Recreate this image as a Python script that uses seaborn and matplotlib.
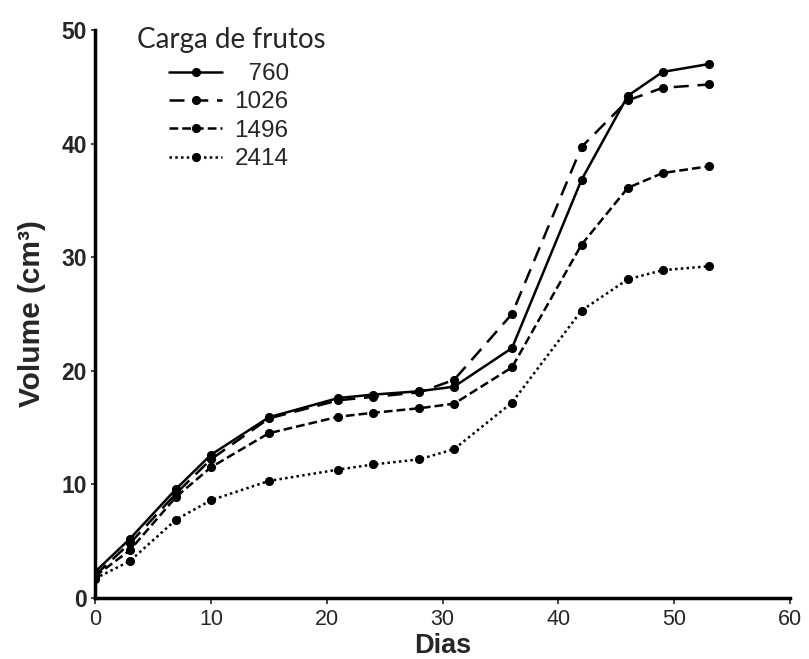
import seaborn as sns
import matplotlib.pyplot as plt
import pandas as pd

# dias apos inicio, volume medio (cm3) por carga de frutos
dias = [0, 3, 7, 10, 15, 21, 24, 28, 31, 36, 42, 46, 49, 53]
carga_760 = [2.3, 5.2, 9.6, 12.6, 15.9, 17.6, 17.9, 18.2, 18.6, 22.0, 36.8, 44.2, 46.3, 47.0]
carga_1026 = [2.0, 4.8, 9.2, 12.2, 15.8, 17.4, 17.7, 18.1, 19.2, 25.0, 39.7, 43.8, 44.9, 45.2]
carga_1496 = [1.9, 4.2, 8.9, 11.5, 14.5, 15.95, 16.3, 16.7, 17.1, 20.3, 31.1, 36.1, 37.4, 38.0]
carga_2414 = [1.7, 3.25, 6.9, 8.6, 10.3, 11.3, 11.75, 12.2, 13.1, 17.2, 25.3, 28.05, 28.85, 29.2]

cargas = ['  760', '1026', '1496', '2414']
series = [carga_760, carga_1026, carga_1496, carga_2414]

rows = []
for nome, vals in zip(cargas, series):
    for d, v in zip(dias, vals):
        rows.append({'dias': d, 'volume': v, 'carga': nome})
df = pd.DataFrame(rows)

sns.set_style('white')
plt.rcParams['font.family'] = ['Liberation Sans', 'DejaVu Sans']

fig = plt.figure(figsize=(8.09, 6.59), dpi=100)
ax = fig.add_axes([0.1175, 0.0926, 0.859, 0.862])

tracos = {'  760': '', '1026': (6, 3.5), '1496': (3.5, 1.6), '2414': (1, 1.3)}
sns.lineplot(data=df, x='dias', y='volume', hue='carga', style='carga',
             palette=['black'] * 4, dashes=tracos, markers={c: 'o' for c in cargas},
             markersize=5.8, linewidth=1.8, markeredgecolor='black', ax=ax)

ax.set_xlim(0, 60)
ax.set_ylim(0, 50)
ax.set_xticks([0, 10, 20, 30, 40, 50, 60])
ax.set_yticks([0, 10, 20, 30, 40, 50])
sns.despine(ax=ax)
for s in ['left', 'bottom']:
    ax.spines[s].set_linewidth(2.5)
    ax.spines[s].set_color('black')
ax.tick_params(axis='x', direction='out', length=4, width=1.2, labelsize=15.5, pad=4, bottom=True)
ax.tick_params(axis='y', direction='out', length=3, width=1.2, labelsize=16.5, pad=3, left=True)
for lab in ax.get_yticklabels():
    lab.set_fontweight('bold')

ax.set_xlabel('Dias', fontsize=19.5, fontweight='bold', labelpad=2)
ax.set_ylabel('Volume (cm³)', fontsize=21.5, fontweight='bold', labelpad=11)

handles, labels = ax.get_legend_handles_labels()
leg = ax.legend(handles, labels, loc='upper left',
                bbox_to_anchor=(169 / 809, 1 - 63 / 659), bbox_transform=fig.transFigure,
                frameon=False, fontsize=17.5, borderpad=0, borderaxespad=0,
                handlelength=2.2, handletextpad=0.5, labelspacing=0.26)
fig.text(137 / 809, 1 - 40 / 659, 'Carga de frutos', fontsize=20, family='Lato',
         ha='left', va='center')

plt.savefig('out.png', dpi=100)
plt.close()
